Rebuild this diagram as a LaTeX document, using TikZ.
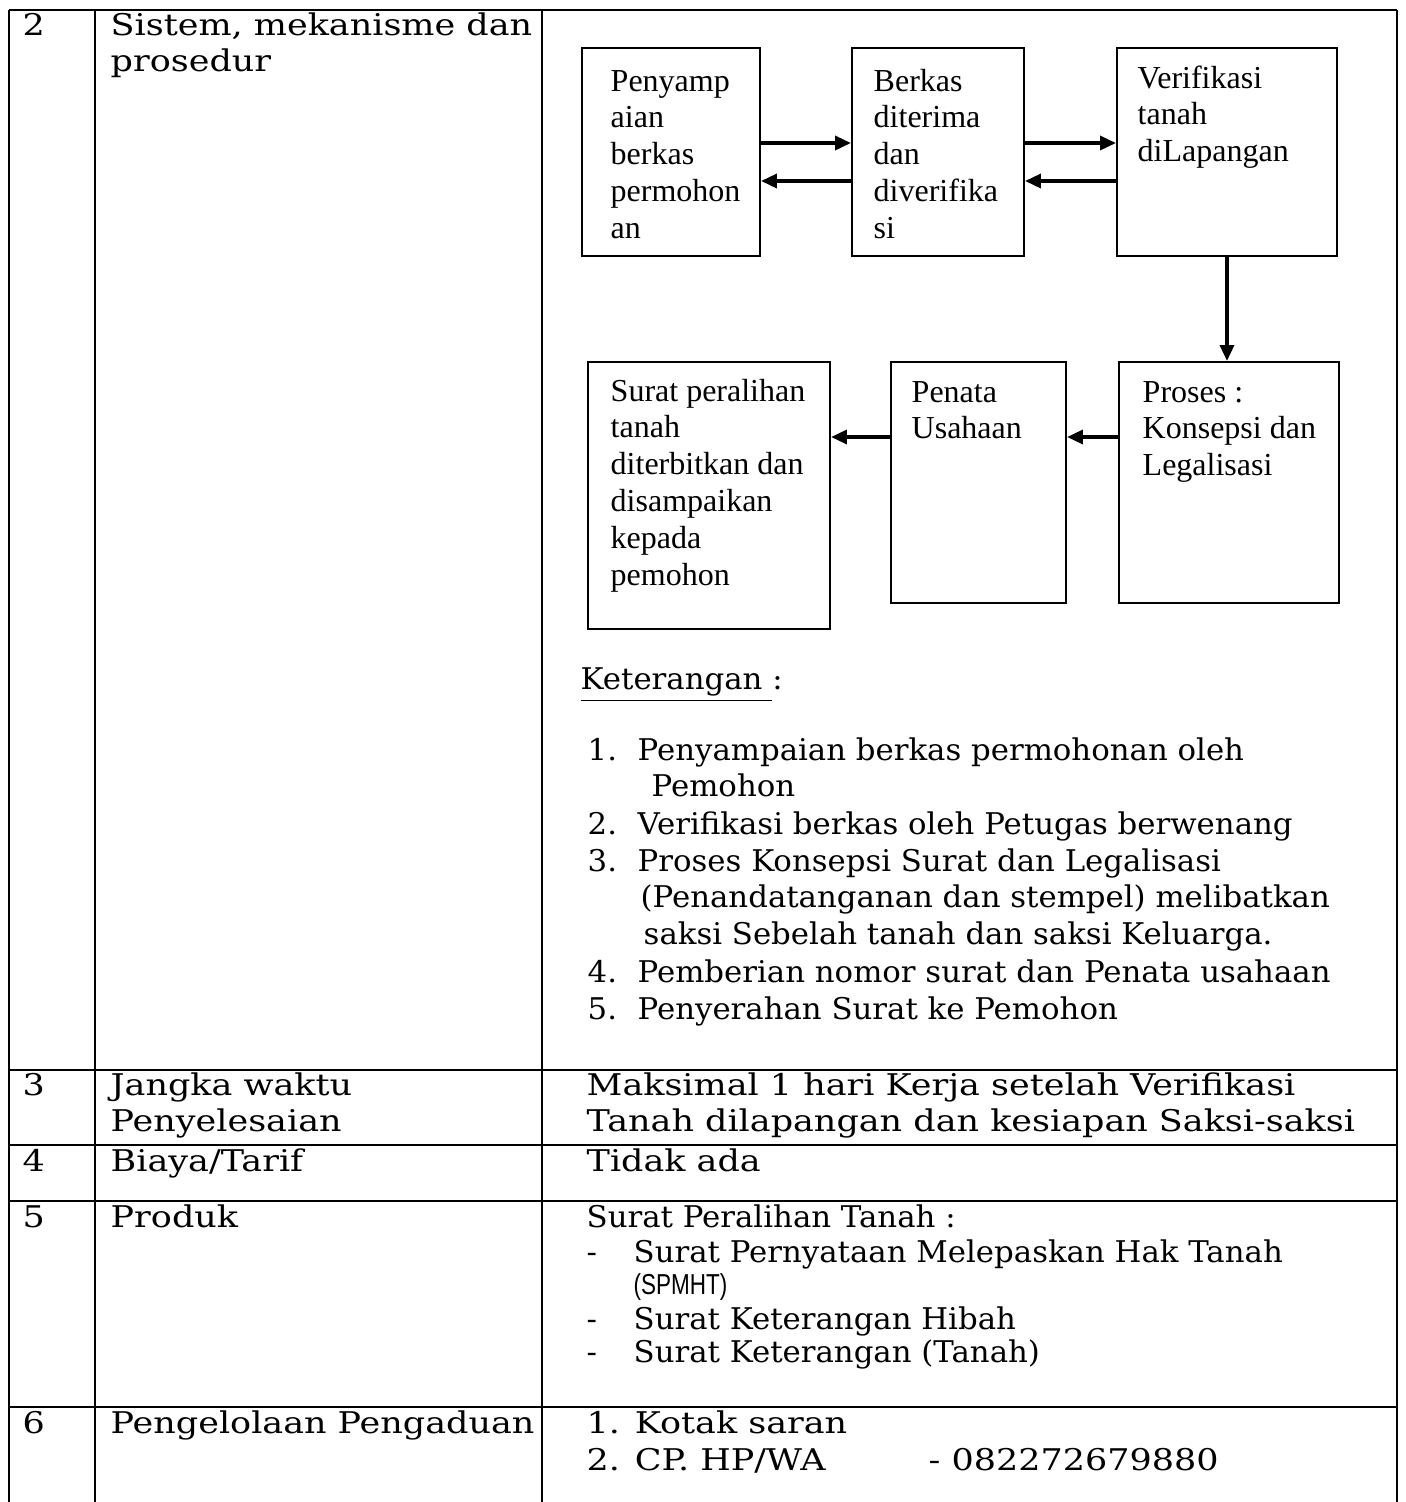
\documentclass[tikz,border=0pt]{standalone}
\usepackage{fontspec}
\setmainfont{DejaVu Serif}[FakeStretch=1.17]
\newfontfamily\narrowfont{DejaVu Serif}[FakeStretch=1.03]
\newfontfamily\timesfont{Liberation Serif}
\newfontfamily\arialfont{Liberation Sans}[FakeStretch=0.78]
\usetikzlibrary{arrows.meta}
\newcommand{\rows}[1]{\begin{tabular}[t]{@{}l@{}}#1\end{tabular}}
\tikzset{
  tbl/.style={line width=0.75pt},
  cell/.style={anchor=base west, font=\fontsize{8.5}{10.5}\selectfont},
  note/.style={anchor=base west, font=\narrowfont\fontsize{8.5}{10.5}\selectfont},
  flowbox/.style={draw, line width=0.6pt},
  flowtext/.style={anchor=base west, font=\timesfont\fontsize{9.1}{10.5}\selectfont},
  arr/.style={line width=0.9pt, -{Triangle[length=4.5pt,width=4pt]}}
}
\begin{document}
\begin{tikzpicture}[x=0.01cm,y=-0.01cm]
\tikzstyle{every node}+=[inner sep=0pt]
\useasboundingbox (0,0) rectangle (1406,1502);
% table
\draw[tbl] (9,10) -- (1397,10);
\foreach \y in {1070,1145,1201,1407}
  \draw[tbl] (9,\y) -- (1397,\y);
\foreach \x in {9,95,542,1397}
  \draw[tbl] (\x,10) -- (\x,1502);
% row 2
\node[cell] (no2) at (22,35) {2};
\node[cell] (item2) at (110,35) {\rows{Sistem, mekanisme dan\\prosedur}};
% flow boxes
\node[flowbox, minimum width=1.78cm, minimum height=2.08cm] (penyampaian) at (671,152) {};
\node[flowbox, minimum width=1.72cm, minimum height=2.08cm] (berkas) at (938,152) {};
\node[flowbox, minimum width=2.20cm, minimum height=2.08cm] (verifikasi) at (1227,152) {};
\node[flowbox, minimum width=2.20cm, minimum height=2.41cm] (proses) at (1229,482.5) {};
\node[flowbox, minimum width=1.75cm, minimum height=2.41cm] (penata) at (978.5,482.5) {};
\node[flowbox, minimum width=2.42cm, minimum height=2.67cm] (surat) at (709,495.5) {};
\node[flowtext] (tpenyampaian) at (610,91) {\rows{Penyamp\\aian\\berkas\\permohon\\an}};
\node[flowtext] (tberkas) at (873,91) {\rows{Berkas\\diterima\\dan\\diverifika\\si}};
\node[flowtext] (tverifikasi) at (1137,88) {\rows{Verifikasi\\tanah\\diLapangan}};
\node[flowtext] (tproses) at (1142,402) {\rows{Proses :\\Konsepsi dan\\Legalisasi}};
\node[flowtext] (tpenata) at (911,402) {\rows{Penata\\Usahaan}};
\node[flowtext] (tsurat) at (610,401) {\rows{Surat peralihan\\tanah\\diterbitkan dan\\disampaikan\\kepada\\pemohon}};
\coordinate (r1) at (0,143);
\coordinate (r2) at (0,181);
\coordinate (r3) at (0,437);
\draw[arr] (penyampaian.east |- r1) -- (berkas.west |- r1);
\draw[arr] (berkas.west |- r2) -- (penyampaian.east |- r2);
\draw[arr] (berkas.east |- r1) -- (verifikasi.west |- r1);
\draw[arr] (verifikasi.west |- r2) -- (berkas.east |- r2);
\draw[arr] (verifikasi.south) -- (verifikasi.south |- proses.north);
\draw[arr] (proses.west |- r3) -- (penata.east |- r3);
\draw[arr] (penata.west |- r3) -- (surat.east |- r3);
% keterangan
\node[note] (ket) at (580,689) {\underline{Keterangan\ }:};
\node[note] (n1) at (587,760) {1.};
\node[note] (k1) at (637,760) {\rows{Penyampaian berkas permohonan oleh\\\hspace{0.14cm}Pemohon}};
\node[note] (n2) at (587,834) {2.};
\node[note] (k2) at (637,834) {Verifikasi berkas oleh Petugas berwenang};
\node[note] (n3) at (587,871) {3.};
\node[note] (k3) at (637,871) {\rows{Proses Konsepsi Surat dan Legalisasi\\\hspace{0.03cm}(Penandatanganan dan stempel) melibatkan\\\hspace{0.06cm}saksi Sebelah tanah dan saksi Keluarga.}};
\node[note] (n4) at (587,982) {4.};
\node[note] (k4) at (637,982) {Pemberian nomor surat dan Penata usahaan};
\node[note] (n5) at (587,1019) {5.};
\node[note] (k5) at (637,1019) {Penyerahan Surat ke Pemohon};
% row 3
\node[cell] (no3) at (22,1095) {3};
\node[cell] (item3) at (110,1095) {\rows{Jangka waktu\\Penyelesaian}};
\node[cell] (isi3) at (586,1095) {\rows{Maksimal 1 hari Kerja setelah Verifikasi\\Tanah dilapangan dan kesiapan Saksi-saksi}};
% row 4
\node[cell] (no4) at (22,1171) {4};
\node[cell] (item4) at (110,1171) {Biaya/Tarif};
\node[cell] (isi4) at (586,1171) {Tidak ada};
% row 5
\node[cell] (no5) at (22,1227) {5};
\node[cell] (item5) at (110,1227) {Produk};
\node[note] (isi5) at (586,1227) {Surat Peralihan Tanah :};
\node[note] (d1) at (586,1262) {-};
\node[note] (p1) at (633,1262) {Surat Pernyataan Melepaskan Hak Tanah};
\node[note, font=\arialfont\fontsize{8.2}{10}\selectfont] (p1b) at (633,1294) {(SPMHT)};
\node[note] (d2) at (586,1329) {-};
\node[note] (p2) at (633,1329) {Surat Keterangan Hibah};
\node[note] (d3) at (586,1362) {-};
\node[note] (p3) at (633,1362) {Surat Keterangan (Tanah)};
% row 6
\node[cell] (no6) at (22,1433) {6};
\node[cell] (item6) at (110,1433) {Pengelolaan Pengaduan};
\node[cell] (isi6a) at (586,1433) {1. Kotak saran};
\node[cell] (isi6b) at (586,1470) {2. CP. HP/WA};
\node[cell] (isi6c) at (928,1470) {- 082272679880};
\end{tikzpicture}
\end{document}
